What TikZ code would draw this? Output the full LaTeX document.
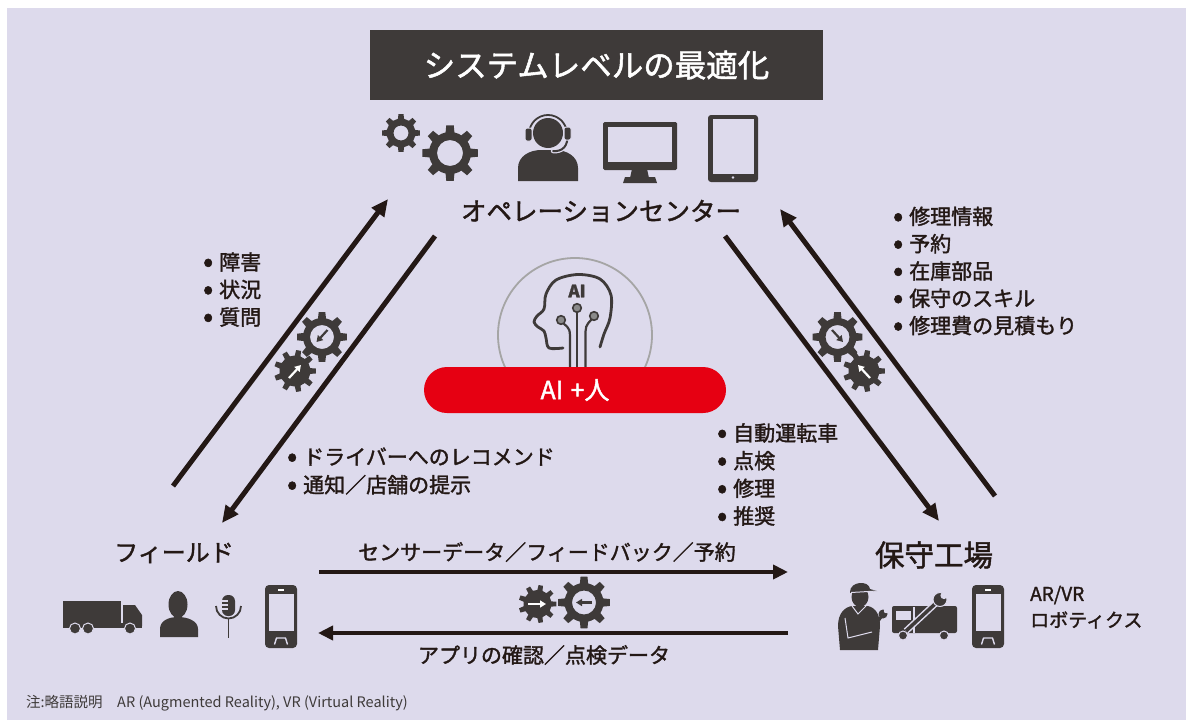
\documentclass[tikz,border=0pt]{standalone}
\usepackage{fontspec}
\setmainfont{Noto Sans CJK JP}[FakeBold=1.6]
\newfontfamily\plainjp{Noto Sans CJK JP}
\usetikzlibrary{arrows.meta}

\definecolor{bg}{HTML}{DDDAEC}
\definecolor{ink}{HTML}{231815}
\definecolor{icon}{HTML}{3E3A39}
\definecolor{aired}{HTML}{E60012}
\definecolor{ring}{HTML}{A5A5A5}
\definecolor{dotgray}{HTML}{8A8A8A}

\newcommand\fs[1]{\fontsize{#1}{#1}\selectfont}
\newcommand\bul{\makebox[22pt][c]{\raisebox{-1.8pt}{\fontsize{30}{0}\selectfont •}}}

\tikzset{
  flow/.style={line width=5pt, draw=ink, -{Triangle[length=17pt,width=15pt]}},
  hflow/.style={line width=4.5pt, draw=ink, -{Triangle[length=15pt,width=14pt]}},
  lbl/.style={text=ink, inner sep=0pt, font=\fs{21}},
  listbox/.style={text=ink, inner sep=0pt, align=left, anchor=west, font=\fontsize{21}{27.5}\selectfont},
  hub/.style={text=ink, inner sep=0pt},
  darktip/.style={icon, line width=2.2pt, -{Triangle[length=6pt,width=7pt]}},
  whitetip/.style={white, line width=2.2pt, -{Triangle[length=6pt,width=7pt]}},
  pics/gear/.style n args={4}{code={
    \fill[icon, even odd rule] ({-0.27*360/#1}:#2)
      \foreach \k in {1,...,#1}{
        -- ({(\k-1-0.17)*360/#1}:#3) -- ({(\k-1+0.17)*360/#1}:#3)
        -- ({(\k-1+0.27)*360/#1}:#2)
        arc[start angle={(\k-1+0.27)*360/#1}, end angle={(\k-0.27)*360/#1}, radius=#2]
      } -- cycle (0,0) circle[radius=#4];
  }},
  pics/phone/.style={code={
    \fill[icon, rounded corners=4pt] (0,0) rectangle (32,63);
    \fill[bg] (3.5,8.5) rectangle (28.5,46);
    \fill[white] (13,3.5) rectangle (19,5.5);
    \draw[bg, line width=1.4pt, line join=round] (9.5,59.5) -- (11.5,53) -- (20.5,53) -- (22.5,59.5);
  }},
}

\begin{document}
\begin{tikzpicture}[x=1pt, y=-1pt]
\useasboundingbox (0,0) rectangle (1186,720);
\fill[white] (0,0) rectangle (1186,720);
\fill[bg] (7,8) rectangle (1186,720);

% ---------- title ----------
\node[fill=icon, minimum width=453, minimum height=70, inner sep=0pt,
      text=white, font=\fs{31.5}] (title) at (596.5,65) {システムレベルの最適化};

% ---------- operation center icons ----------
\pic at (401,133) {gear={8}{14.5}{19}{7.5}};
\pic at (450,153) {gear={8}{21}{28}{13}};

% operator with headset
\fill[icon] (518,181) -- (518,168) .. controls (518,156) and (530,150) .. (541,150)
  -- (555,150) .. controls (566,150) and (578,156) .. (578,168) -- (578,181) -- cycle;
\fill[icon] (548,133) circle[radius=15];
\draw[bg, line width=4pt] (529,134) arc[start angle=180, end angle=360, radius=19];
\draw[icon, line width=1.8pt] (529,134) arc[start angle=180, end angle=360, radius=19];
\fill[icon, draw=bg, line width=1pt, rounded corners=2pt] (525,128) rectangle (532,141);
\draw[bg, line width=4.5pt, line cap=round] (567,134) .. controls (569,146) and (562,152) .. (553,151);
\draw[icon, line width=2pt, line cap=round] (567,134) .. controls (569,146) and (562,152) .. (553,151);
\fill[icon, draw=bg, line width=1pt, rounded corners=2pt] (564,127) rectangle (571,140);

% monitor
\fill[icon, rounded corners=1.5pt] (603,122) rectangle (677,170);
\fill[bg] (608,126.5) rectangle (672,162);
\fill[icon] (632,169) -- (647,169) -- (649,178) -- (630,178) -- cycle;
\fill[icon] (625,177) -- (655,177) -- (657,183) -- (623,183) -- cycle;

% tablet
\fill[icon, rounded corners=3pt] (708,115) rectangle (758,182);
\fill[bg] (712.5,119) rectangle (754,174);
\fill[bg] (733,177.5) circle[radius=1.4];

\node[hub, font=\fs{25.5}] (ops) at (601,211) {オペレーションセンター};

% ---------- AI in the middle ----------
\node[circle, draw=ring, line width=1.8pt, minimum size=154, inner sep=0pt] (aicircle) at (575,335) {};
\draw[icon, line width=2.8pt, line cap=round, line join=round]
  plot[smooth, tension=0.55] coordinates {(563,348) (549,348) (546,338) (544,331)
    (538,327) (534,322) (537,316) (544,309) (546,294) (556,280) (578,274.5)
    (600,279) (611,295) (610,318) (604,334) (600,347)};
\node[text=icon, inner sep=0pt, font=\bfseries\fs{17}] (ailogo) at (577,291) {AI};
\draw[icon, line width=2.2pt] (577,312) -- (577,372);
\draw[icon, line width=2.2pt] (563.5,323.5) .. controls (570,329) .. (570,342) -- (570,372);
\draw[icon, line width=2.2pt] (591.5,319.5) .. controls (585.5,326) .. (585.5,338) -- (585.5,372);
\foreach \p in {(561,320),(577,308),(594,316)}
  \filldraw[fill=dotgray, draw=icon, line width=1.6pt] \p circle[radius=4.3];
\node[fill=aired, rounded corners=23pt, minimum width=302, minimum height=46, inner sep=0pt,
      text=white, font=\fs{25}] (aiplus) at (575,390) {AI\hspace{0.3em}+人};

% ---------- field ----------
\node[hub, font=\fs{24}] (field) at (174,553) {フィールド};
% truck
\fill[icon] (63,601) rectangle (121,625);
\fill[icon] (123,605) -- (135,605) -- (142,615) -- (142,626) -- (123,626) -- cycle;
\fill[icon] (63,623) rectangle (142,628);
\foreach \wx in {75,88,130}{
  \fill[icon, draw=bg, line width=1pt] (\wx,628.5) circle[radius=5.5];
}
% person
\fill[icon] (178,604.5) ellipse[x radius=9.5, y radius=13.5];
\fill[icon] (160,637) -- (160,629) .. controls (160,621) and (168,617) .. (178,617)
  .. controls (188,617) and (198,621) .. (198,629) -- (198,637) -- cycle;
% microphone
\draw[icon, line width=1.8pt] (216,606) arc[start angle=180, end angle=0, radius=12.5];
\draw[icon, line width=1.8pt] (228.5,618.5) -- (228.5,638);
\fill[icon, rounded corners=6pt] (222,595) rectangle (235,616);
\draw[bg, line width=1.2pt] (222,601) -- (228,601) (222,605) -- (228,605) (222,609) -- (228,609);
\pic at (265,585) {phone};

% ---------- workshop ----------
\node[hub, font=\fs{29.5}] (shop) at (934,555) {保守工場};
% mechanic
\fill[icon] (860,597) ellipse[x radius=8.5, y radius=10];
\fill[icon] (850,592) .. controls (850,581) and (869,580) .. (870,589) -- (877,591) -- (850,593) -- cycle;
\draw[bg, line width=1pt] (851,592.5) -- (877,591);
\fill[icon] (840,650) -- (838,626) .. controls (838,613) and (845,607) .. (852,606)
  -- (868,606) .. controls (876,608) and (880,615) .. (880,626) -- (878,650) -- cycle;
\draw[bg, line width=1pt] (852,606) -- (858,614) -- (866,606);
\draw[bg, line width=1pt] (845,618) -- (848,638) -- (872,632);
\draw[icon, line width=3pt] (873,628) -- (881,617);
\fill[icon] (883,614) circle[radius=4.5];
\fill[bg] (886,611) circle[radius=2.2];
% truck with wrench
\fill[icon, rounded corners=2pt] (892,606) rectangle (957,633);
\fill[bg] (895.5,610.5) rectangle (911,620);
\draw[bg, line width=1.2pt] (914,607) -- (914,633);
\foreach \wx in {903,944}{
  \fill[icon, draw=bg, line width=1pt] (\wx,635.5) circle[radius=4.5];
}
\draw[bg, line width=6.5pt] (906,631) -- (936,603);
\draw[icon, line width=3.5pt] (906,631) -- (936,603);
\fill[icon, draw=bg, line width=1pt] (940,599.5) circle[radius=7];
\fill[bg] (944,595.5) circle[radius=3.6];
\pic at (972,585) {phone};
\node[text=ink, inner sep=0pt, anchor=west, font=\fs{19}] (arvr) at (1030,595) {AR/VR};
\node[text=ink, inner sep=0pt, anchor=west, font=\fs{19}] (robo) at (1030,620) {ロボティクス};

% ---------- flows ----------
\coordinate (fa) at (173,486);  \coordinate (fb) at (388,199);
\coordinate (fc) at (435,236);  \coordinate (fd) at (222,523);
\coordinate (ra) at (725,236);  \coordinate (rb) at (939,521);
\coordinate (rc) at (995,496);  \coordinate (rd) at (780,209);
\coordinate (ha) at (319,572);  \coordinate (hb) at (788,572);
\coordinate (hc) at (788,633);  \coordinate (hd) at (318,633);
\draw[flow] (fa) -- (fb);
\draw[flow] (fc) -- (fd);
\draw[flow] (ra) -- (rb);
\draw[flow] (rc) -- (rd);
\draw[hflow] (ha) -- (hb);
\draw[hflow] (hc) -- (hd);

% gear pairs on the flows
\pic at (322,337) {gear={8}{19}{25}{12}};
\draw[darktip] (327.5,330) -- (316.5,342);
\pic at (295,371) {gear={9}{15.5}{21}{0}};
\draw[whitetip] (289,378) -- (301,365);

\pic at (837.5,337) {gear={8}{19}{25}{12}};
\draw[darktip] (832,330) -- (843,342);
\pic at (864,371) {gear={9}{15.5}{21}{0}};
\draw[whitetip] (870,378) -- (858,365);

\pic at (537.5,604) {gear={9}{14}{19}{0}};
\draw[whitetip] (528,604) -- (546,604);
\pic at (584,602.5) {gear={8}{19.5}{26}{12}};
\draw[darktip] (592,602.5) -- (576,602.5);

% ---------- labels ----------
\node[listbox] (leftlist) at (197,289.5) {\bul 障害\\\bul 状況\\\bul 質問};
\node[listbox, font=\fontsize{21}{27.3}\selectfont] (rightlist) at (887,271) {\bul 修理情報\\\bul 予約\\\bul 在庫部品\\\bul 保守のスキル\\\bul 修理費の見積もり};
\node[listbox, font=\fontsize{21}{27.7}\selectfont] (carlist) at (711,474.5) {\bul 自動運転車\\\bul 点検\\\bul 修理\\\bul 推奨};
\node[listbox, font=\fontsize{21}{28}\selectfont] (drvlist) at (281,471) {\bul ドライバーへのレコメンド\\\bul 通知／店舗の提示};
\node[lbl] (uplabel) at (547,552) {センサーデータ／フィードバック／予約};
\node[lbl] (downlabel) at (544,655) {アプリの確認／点検データ};

\node[text=icon, inner sep=0pt, anchor=west, font=\plainjp\fs{14.5}] (note) at (26,703)
  {注:略語説明\hspace{1em}AR (Augmented Reality), VR (Virtual Reality)};
\end{tikzpicture}
\end{document}
